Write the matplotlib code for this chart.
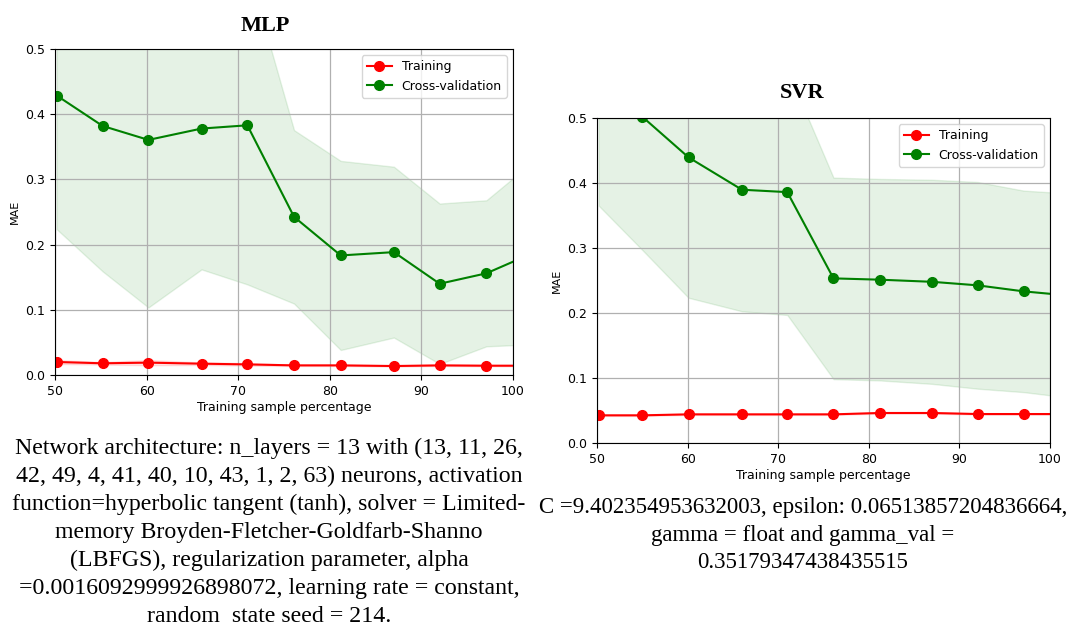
import numpy as np
import matplotlib
matplotlib.use("Agg")
import matplotlib.pyplot as plt

# training sample percentage (last point lies just past the axis limit)
mlp_x = [50.2, 55.2, 60.2, 66.0, 71.0, 76.1, 81.2, 87.0, 92.0, 97.1, 102.0]
mlp_train = [0.020, 0.018, 0.019, 0.0174, 0.0163, 0.0148, 0.0148, 0.0138, 0.0148, 0.0143, 0.0143]
mlp_train_std = [0.003, 0.002, 0.004, 0.002, 0.002, 0.001, 0.001, 0.001, 0.001, 0.001, 0.001]
mlp_cv = [0.4285, 0.382, 0.3606, 0.378, 0.383, 0.2426, 0.1834, 0.1885, 0.140, 0.156, 0.186]
mlp_cv_std = [0.205, 0.223, 0.257, 0.216, 0.244, 0.133, 0.145, 0.131, 0.123, 0.112, 0.139]

svr_x = [50.2, 55.0, 60.1, 66.0, 71.0, 76.1, 81.2, 87.0, 92.0, 97.1, 102.0]
svr_train = [0.0426, 0.0426, 0.0441, 0.0441, 0.0441, 0.0441, 0.0462, 0.0462, 0.0446, 0.0446, 0.0446]
svr_train_std = [0.001] * 11
svr_cv = [0.57, 0.502, 0.4395, 0.3897, 0.386, 0.2533, 0.2513, 0.248, 0.2426, 0.2333, 0.227]
svr_cv_std = [0.205, 0.205, 0.216, 0.187, 0.189, 0.155, 0.155, 0.157, 0.159, 0.155, 0.157]

mlp_note = ("Network architecture: n_layers = 13 with (13, 11, 26,\n"
            "42, 49, 4, 41, 40, 10, 43, 1, 2, 63) neurons, activation\n"
            "function=hyperbolic tangent (tanh), solver = Limited-\n"
            "memory Broyden-Fletcher-Goldfarb-Shanno\n"
            "(LBFGS), regularization parameter, alpha\n"
            "=0.0016092999926898072, learning rate = constant,\n"
            "random  state seed = 214.")
svr_note = ("C =9.402354953632003, epsilon: 0.06513857204836664,\n"
            "gamma = float and gamma_val =\n"
            "0.35179347438435515")


def learning_curve(ax, x, tr, tr_s, cv, cv_s):
    x = np.array(x)
    tr, tr_s, cv, cv_s = map(np.array, (tr, tr_s, cv, cv_s))
    ax.grid(True, color="#b0b0b0", linewidth=0.9)
    ax.fill_between(x, tr - tr_s, tr + tr_s, alpha=0.1, color="r")
    ax.fill_between(x, cv - cv_s, cv + cv_s, alpha=0.1, color="g")
    ax.plot(x, tr, "o-", color="r", markersize=7, label="Training")
    ax.plot(x, cv, "o-", color="g", markersize=7, label="Cross-validation")
    ax.set_xlim(50, 100)
    ax.set_ylim(0, 0.5)
    ax.set_xticks([50, 60, 70, 80, 90, 100])
    ax.set_yticks([0.0, 0.1, 0.2, 0.3, 0.4, 0.5])
    ax.tick_params(labelsize=9)
    ax.set_xlabel("Training sample percentage", fontsize=9, labelpad=2)
    ax.set_ylabel("MAE", fontsize=8)
    ax.legend(loc="upper right", fontsize=9)


fig = plt.figure(figsize=(10.72, 6.39), dpi=100)

ax1 = fig.add_axes([0.0513, 0.4131, 0.4272, 0.5102])
learning_curve(ax1, mlp_x, mlp_train, mlp_train_std, mlp_cv, mlp_cv_std)

ax2 = fig.add_axes([0.5569, 0.3067, 0.4226, 0.5086])
learning_curve(ax2, svr_x, svr_train, svr_train_std, svr_cv, svr_cv_std)

serif = ["Liberation Serif", "DejaVu Serif"]
fig.text(265 / 1072, 1 - 26 / 639, "MLP", ha="center", va="center",
         fontsize=16, fontweight="bold", family=serif)
fig.text(802 / 1072, 1 - 93 / 639, "SVR", ha="center", va="center",
         fontsize=16, fontweight="bold", family=serif)

fig.text(269 / 1072, 1 - 438 / 639, mlp_note, ha="center", va="top",
         fontsize=17.2, family=serif, linespacing=1.43)
fig.text(803 / 1072, 1 - 497 / 639, svr_note, ha="center", va="top",
         fontsize=16.5, family=serif, linespacing=1.42)

fig.savefig("out.png", dpi=100)
